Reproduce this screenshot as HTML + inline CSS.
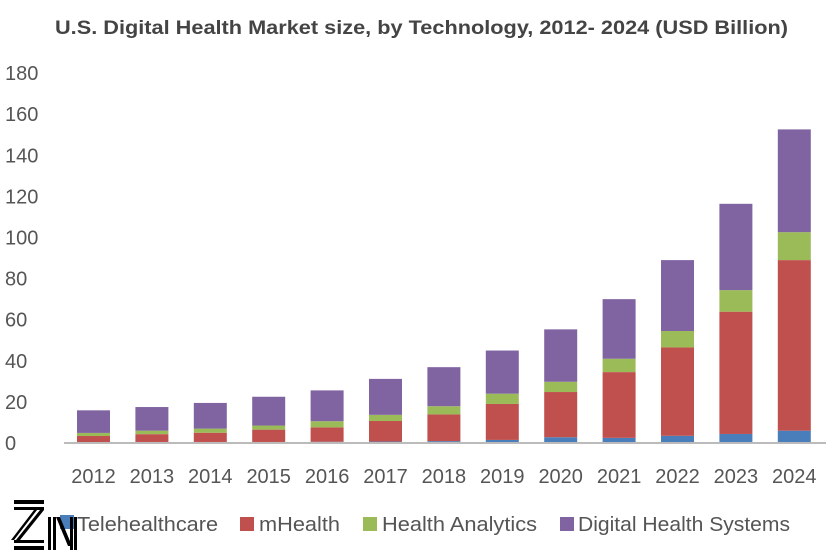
<!DOCTYPE html>
<html><head><meta charset="utf-8"><style>
html,body{margin:0;padding:0;background:#fff;}
svg{display:block;font-family:"Liberation Sans",sans-serif;}
</style></head><body>
<svg id="chart" width="834" height="556" viewBox="0 0 834 556">
<text x="55" y="34" textLength="733" lengthAdjust="spacingAndGlyphs" font-size="19" font-weight="bold" fill="#444">U.S. Digital Health Market size, by Technology, 2012- 2024 (USD Billion)</text>
<g id="yaxis"></g>
<g id="bars"></g>
<g id="xaxis"></g>
<line x1="64" y1="443" x2="826" y2="443" stroke="#bbb" stroke-width="2"/>
<g font-size="20" fill="#555">
<g><rect x="60" y="515" width="14" height="14" fill="#4a7ebb"/><text x="77" y="531" textLength="141" lengthAdjust="spacingAndGlyphs">Telehealthcare</text></g>
<g><rect x="240" y="517" width="14" height="14" fill="#c0504d"/><text x="259" y="531" textLength="81" lengthAdjust="spacingAndGlyphs">mHealth</text></g>
<g><rect x="363" y="517" width="14" height="14" fill="#9bbb59"/><text x="382" y="531" textLength="155" lengthAdjust="spacingAndGlyphs">Health Analytics</text></g>
<g><rect x="560" y="517" width="14" height="14" fill="#8064a2"/><text x="578" y="531" textLength="212" lengthAdjust="spacingAndGlyphs">Digital Health Systems</text></g>
</g>
<g>
<rect x="14" y="500" width="30" height="4" fill="#000"/>
<rect x="14" y="507" width="30" height="3" fill="#000"/>
<polygon points="40,510 44,510 20,540 16,540" fill="#000"/>
<polygon points="34,510 37,510 14,540 11,540" fill="#000"/>
<rect x="14" y="540" width="30" height="3" fill="#000"/>
<rect x="14" y="546" width="30" height="4" fill="#000"/>
<rect x="48" y="517" width="3" height="33" fill="#000"/>
<rect x="53" y="517" width="3" height="33" fill="#000"/>
<polygon points="56,517 60,517 72,546 68,546" fill="#000"/>
<rect x="70" y="517" width="3" height="33" fill="#000"/>
<rect x="74" y="517" width="3" height="33" fill="#000"/>
</g>
</svg>
<script>
const years = ["2012","2013","2014","2015","2016","2017","2018","2019","2020","2021","2022","2023","2024"];
const tele = [0.4,0.5,0.5,0.5,0.6,0.7,0.9,1.5,2.8,2.5,3.5,4.4,6];
const mhealth = [3,3.8,4.5,6,7,10,13,17.5,22,32,43,59.5,83];
const analytics = [1.5,1.7,2,2,3,3,4,5,5,6.5,8,10.5,13.6];
const systems = [11,11.5,12.5,14,15,17.5,19,21,25.5,29,34.5,42,50];
const yTicks = [0,20,40,60,80,100,120,140,160,180];
const NS="http://www.w3.org/2000/svg";
const y0=443, pxPerUnit=41.1/20;
function yScale(v){return y0 - v*pxPerUnit;}
function xScale(i){return 93.5 + i*58.4;}
const yax=document.getElementById('yaxis');
yTicks.forEach(t=>{
  const e=document.createElementNS(NS,'text');
  
  
  e.setAttribute('x',5);e.setAttribute('y',yScale(t)+7);
  e.setAttribute('font-size','20');e.setAttribute('fill','#555');
  e.textContent=t;yax.appendChild(e);
});
const xax=document.getElementById('xaxis');
years.forEach((yr,i)=>{
  const e=document.createElementNS(NS,'text');
  
  
  e.setAttribute('x',xScale(i));e.setAttribute('y',483);
  e.setAttribute('text-anchor','middle');
  e.setAttribute('font-size','20');e.setAttribute('fill','#555');
  e.textContent=yr;xax.appendChild(e);
});
const series=[[tele,'#4a7ebb','telehealthcare'],[mhealth,'#c0504d','mhealth'],[analytics,'#9bbb59','health-analytics'],[systems,'#8064a2','digital-health-systems']];
const bars=document.getElementById('bars');
years.forEach((yr,i)=>{
  let base=0;
  series.forEach(([arr,col,nm])=>{
    const v=arr[i];
    const r=document.createElementNS(NS,'rect');
    
    
    r.setAttribute('x',xScale(i)-16.5);r.setAttribute('width',33);
    r.setAttribute('y',yScale(base+v));r.setAttribute('height',v*pxPerUnit);
    r.setAttribute('fill',col);
    bars.appendChild(r);
    base+=v;
  });
});
</script>
</body></html>
